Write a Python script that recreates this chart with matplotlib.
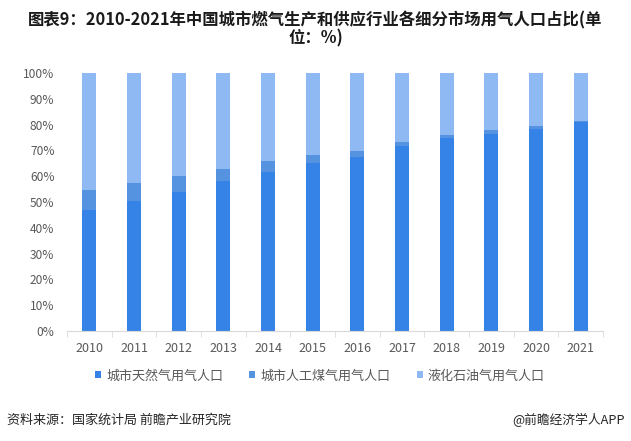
import numpy as np
import matplotlib.pyplot as plt
from matplotlib.ticker import PercentFormatter

plt.rcParams['font.family'] = ['Noto Sans CJK SC', 'DejaVu Sans']

# Data (percent of gas-using population)
years = ['2010', '2011', '2012', '2013', '2014', '2015',
         '2016', '2017', '2018', '2019', '2020', '2021']
natural_gas = [46.9, 50.4, 53.9, 58.1, 61.6, 65.1, 67.6, 71.8, 74.7, 76.5, 78.4, 80.9]
coal_gas = [7.8, 7.0, 6.2, 4.7, 4.3, 3.1, 2.3, 1.6, 1.3, 1.4, 1.1, 0.5]
lpg = [100 - a - b for a, b in zip(natural_gas, coal_gas)]
series_names = ['城市天然气用气人口', '城市人工煤气用气人口', '液化石油气用气人口']

colors = ['#3583E6', '#5592E0', '#8EB9F3']
tick_color = '#595959'

fig = plt.figure(figsize=(6.31, 4.41), dpi=100)
ax = fig.add_axes([67 / 631, 1 - 331 / 441, 536 / 631, 258 / 441])

x = np.arange(len(years))
w = 0.31
ax.bar(x, natural_gas, w, color=colors[0], label=series_names[0])
ax.bar(x, coal_gas, w, bottom=natural_gas, color=colors[1], label=series_names[1])
bottom2 = [a + b for a, b in zip(natural_gas, coal_gas)]
ax.bar(x, lpg, w, bottom=bottom2, color=colors[2], label=series_names[2])

ax.set_xlim(-0.5, len(years) - 0.5)
ax.set_ylim(0, 100)
ax.set_yticks(np.arange(0, 101, 10))
ax.yaxis.set_major_formatter(PercentFormatter(decimals=0))
ax.set_xticks(x)
ax.set_xticklabels(years)
ax.set_xticks(np.arange(-0.5, len(years), 1), minor=True)
ax.tick_params(axis='x', which='major', length=0, pad=8, labelsize=9, colors=tick_color)
ax.tick_params(axis='x', which='minor', length=4, color='#d9d9d9', direction='out')
ax.tick_params(axis='y', length=0, pad=9, labelsize=8.6, colors=tick_color)
for s in ['top', 'right', 'left']:
    ax.spines[s].set_visible(False)
ax.spines['bottom'].set_color('#d9d9d9')

fig.text(0.5, 1 - 29 / 441, '图表9：2010-2021年中国城市燃气生产和供应行业各细分市场用气人口占比(单\n位：%)',
         ha='center', va='center', fontsize=11.8, fontweight='bold', linespacing=1.0, color='#1a1a1a')

fig.legend(loc='center', bbox_to_anchor=(320 / 631, 1 - 376 / 441), ncol=3, frameon=False,
           fontsize=9.4, handlelength=0.45, handleheight=0.45, handletextpad=0.4,
           columnspacing=2.0, labelcolor=tick_color)

fig.text(7 / 631, 1 - 420 / 441, '资料来源：国家统计局 前瞻产业研究院', ha='left', va='center',
         fontsize=9.4, color='#262626')
fig.text(625 / 631, 1 - 420 / 441, '@前瞻经济学人APP', ha='right', va='center',
         fontsize=9.2, color='#262626')

fig.savefig('out.png', dpi=100)
